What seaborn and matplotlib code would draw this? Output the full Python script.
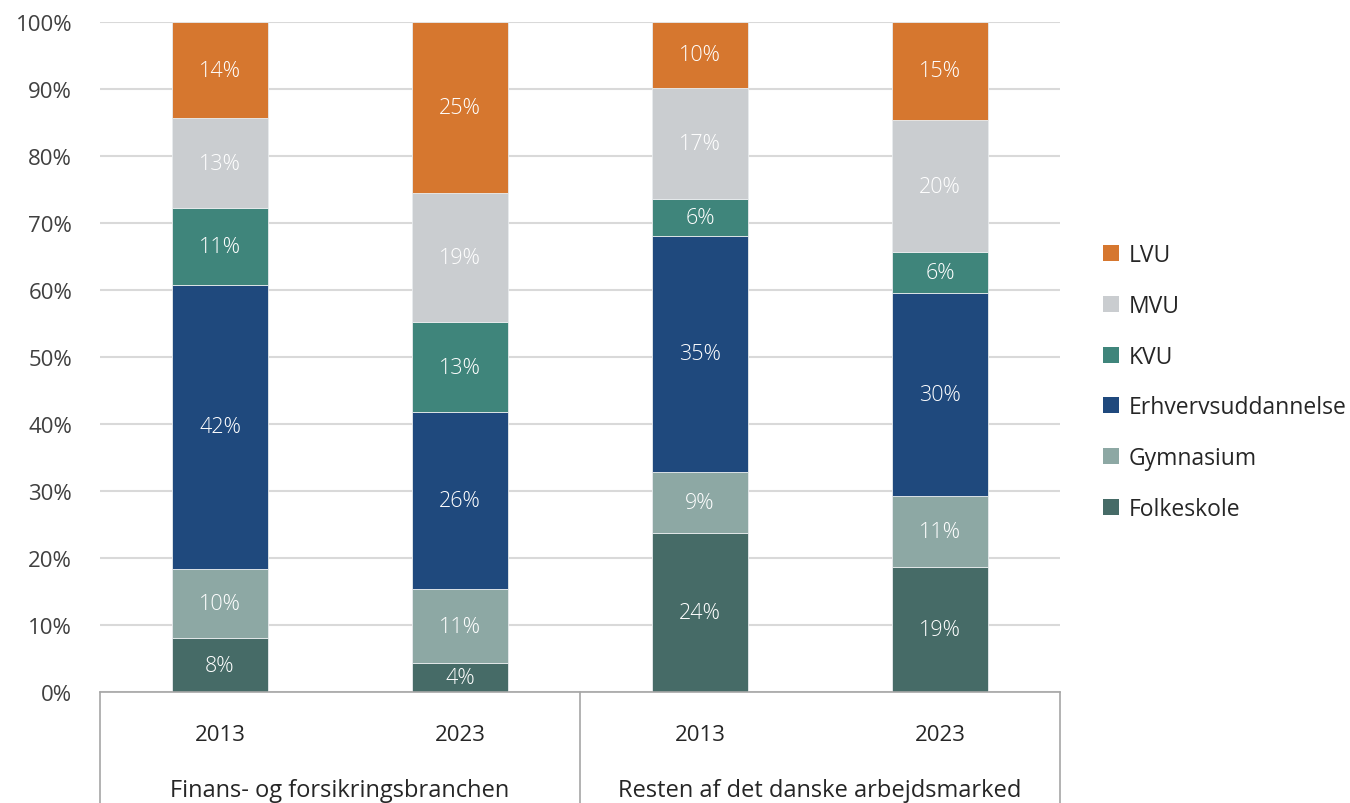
import matplotlib
matplotlib.use("Agg")
import matplotlib.pyplot as plt
import seaborn as sns
import numpy as np
import pandas as pd

# ---- data ----
bars = ["F2013", "F2023", "R2013", "R2023"]
years = ["2013", "2023", "2013", "2023"]
groups = ["Finans- og forsikringsbranchen", "Resten af det danske arbejdsmarked"]
categories = ["Folkeskole", "Gymnasium", "Erhvervsuddannelse", "KVU", "MVU", "LVU"]
folkeskole = [8.0, 4.4, 23.8, 18.6]
gymnasium = [10.4, 10.9, 9.1, 10.7]
erhverv = [42.4, 26.45, 35.1, 30.3]
kvu = [11.4, 13.4, 5.6, 6.0]
mvu = [13.4, 19.4, 16.6, 19.8]
lvu = [14.4, 25.45, 9.8, 14.6]
yticks = [0, 10, 20, 30, 40, 50, 60, 70, 80, 90, 100]

series = [folkeskole, gymnasium, erhverv, kvu, mvu, lvu]
colors = ["#466B67", "#8DA8A4", "#1F497D", "#3F857B", "#CACDD0", "#D6772F"]

sns.set_theme(style="white")
plt.rcParams["font.family"] = ["Open Sans", "DejaVu Sans"]

fig = plt.figure(figsize=(13.5, 8.04), dpi=100)
ax = fig.add_axes([100 / 1350, 111 / 804, 960 / 1350, 670 / 804])

bottom = np.zeros(len(bars))
for name, vals, col in zip(categories, series, colors):
    df = pd.DataFrame({"bar": bars, "val": vals})
    sns.barplot(data=df, x="bar", y="val", order=bars, bottom=bottom, color=col,
                width=0.4, ax=ax, label=name, edgecolor="#E8ECEE", linewidth=0.6,
                saturation=1)
    cont = ax.containers[-1]
    ax.bar_label(cont, labels=[f"{int(round(v))}%" for v in vals], label_type="center",
                 color="white", fontsize=15.5, fontweight="light")
    bottom = bottom + np.array(vals)

handles, labels = ax.get_legend_handles_labels()
if ax.get_legend() is not None:
    ax.get_legend().remove()

ax.set_ylim(0, 100)
ax.set_xlim(-0.5, 3.5)
ax.set_yticks(yticks)
ax.set_yticklabels([f"{v}%" for v in yticks], fontsize=16, color="#404040")
ax.yaxis.grid(True, color="#D9D9D9", linewidth=1.5)
ax.set_axisbelow(True)
ax.set_xticks([])
ax.set_xlabel("")
ax.set_ylabel("")
for s in ["top", "right", "left"]:
    ax.spines[s].set_visible(False)
ax.spines["bottom"].set_color("#A6A6A6")
ax.spines["bottom"].set_linewidth(1.2)
ax.tick_params(axis="y", length=0, pad=20)

# category table beneath axis
trans = ax.get_xaxis_transform()
for xv in [-0.5, 1.5, 3.5]:
    ax.plot([xv, xv], [0, -0.2], transform=trans, color="#A6A6A6", lw=1.2, clip_on=False)
for i, y in enumerate(years):
    ax.text(i, -0.063, y, transform=trans, ha="center", va="center", fontsize=16, color="#262626")
for i, g in enumerate(groups):
    ax.text(0.5 + 2 * i, -0.147, g, transform=trans, ha="center", va="center", fontsize=17, color="#262626")

leg = fig.legend(handles[::-1], labels[::-1], loc="center left", bbox_to_anchor=(1082 / 1350, 1 - 383 / 804),
                 frameon=False, fontsize=16.5, handlelength=0.7, handleheight=0.7, labelspacing=1.17,
                 handletextpad=0.45, labelcolor="#262626")
for h in leg.legend_handles:
    h.set_edgecolor("none")

fig.savefig("out.png", dpi=100)
